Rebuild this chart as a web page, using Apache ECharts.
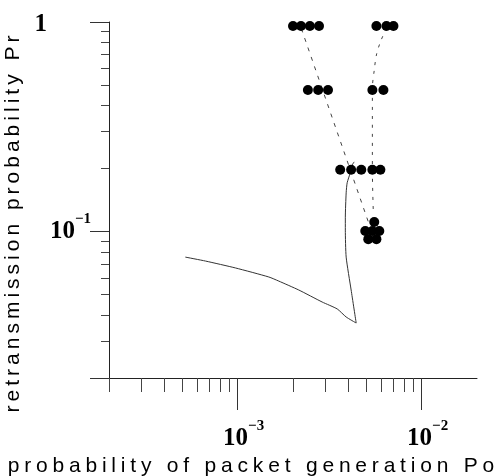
<!DOCTYPE html>
<html><head><meta charset="utf-8">
<script src="https://cdn.jsdelivr.net/npm/echarts@6/dist/echarts.min.js"></script>
<style>html,body{margin:0;padding:0;background:#fff}#c{width:500px;height:476px}</style>
</head><body><div id="c"></div>
<script>
// ---- texts ----
const xTitle = 'probability of packet generation Po';
const yTitle = 'retransmission probability Pr';

// ---- axis ticks / labels ----
const xMin = 0.0002, xMax = 0.02;
const yMin = 0.02, yMax = 1;
const xMajorTicks = [0.001, 0.01];
const xMinorTicks = [0.0002, 0.0003, 0.0004, 0.0005, 0.0006, 0.0007, 0.0008, 0.0009,
                     0.002, 0.003, 0.004, 0.005, 0.006, 0.007, 0.008, 0.009];
const yMajorTicks = [0.02, 0.1, 1];
const yMinorTicks = [0.03, 0.04, 0.05, 0.06, 0.07, 0.08, 0.09,
                     0.2, 0.3, 0.4, 0.5, 0.6, 0.7, 0.8, 0.9];
const xLabelValues = [0.001, 0.01];
const xLabelExponents = ['−3', '−2'];
const yLabelValues = [0.1, 1];

// ---- data: measured points (dots) ----
const dotPo = [0.00200, 0.00221, 0.00247, 0.00277, 0.00568, 0.00644, 0.00703,
               0.00241, 0.00274, 0.00310, 0.00540, 0.00620,
               0.00361, 0.00414, 0.00470, 0.00540, 0.00597,
               0.00553, 0.00494, 0.00540, 0.00589, 0.00513, 0.00568];
const dotPr = [0.957, 0.957, 0.957, 0.957, 0.957, 0.957, 0.957,
               0.474, 0.474, 0.474, 0.474, 0.474,
               0.197, 0.197, 0.197, 0.197, 0.197,
               0.111, 0.1005, 0.1005, 0.1005, 0.092, 0.092];

// ---- solid curve ----
const solidPo = [0.000520, 0.000669, 0.000975, 0.001477, 0.001675, 0.00215, 0.00288, 0.00348,
                 0.00389, 0.00441, 0.00414, 0.00389, 0.00385, 0.00385, 0.00389, 0.00394,
                 0.00409, 0.00420, 0.00430];
const solidPr = [0.0755, 0.0723, 0.0670, 0.0607, 0.0580, 0.0526, 0.0461, 0.0427,
                 0.0391, 0.0366, 0.0526, 0.0755, 0.1016, 0.117, 0.153, 0.171,
                 0.190, 0.208, 0.215];

// ---- dashed diagonal line ----
const dashAPo = [0.00222, 0.00525];
const dashAPr = [0.93, 0.105];

// ---- dashed right line ----
const dashBPo = [0.00644, 0.00597, 0.00568, 0.00553, 0.00540, 0.00540, 0.00540, 0.00547];
const dashBPr = [0.936, 0.803, 0.696, 0.590, 0.484, 0.340, 0.197, 0.120];

const zip = (a, b) => a.map((v, i) => [v, b[i]]);
const spaced = s => s.split('').map(ch => '{c|' + ch + '}').join('');

const serif = 'Liberation Serif';
const sans = 'Liberation Sans';
const ink = '#000';

const labelRich = {
  b: {fontFamily: serif, fontWeight: 'bold', fontSize: 25, color: ink},
  s: {fontFamily: serif, fontWeight: 'bold', fontSize: 15, color: ink, padding: [0, 0, 24, 0]},
  one: {fontFamily: serif, fontWeight: 'bold', fontSize: 25, color: ink, padding: [6, 44, 0, 0]}
};

const chart = echarts.init(document.getElementById('c'), null, {renderer: 'canvas'});
chart.setOption({
  animation: false,
  backgroundColor: '#fff',
  grid: {left: 109, right: 23, top: 22, bottom: 98, outerBoundsMode: 'none', containLabel: false},
  xAxis: [{
    type: 'log', logBase: 10, min: xMin, max: xMax,
    position: 'bottom',
    name: spaced(xTitle), nameLocation: 'middle', nameGap: 76,
    nameTextStyle: {padding: [0, 84, 0, 0], rich: {c: {fontFamily: sans, fontSize: 21, color: ink, padding: [0, 2.4]}}},
    axisLine: {show: true, onZero: false, lineStyle: {color: '#222', width: 1}},
    axisTick: {show: true, customValues: xMajorTicks, length: 32, lineStyle: {color: '#333', width: 1}},
    axisLabel: {
      show: true, customValues: xLabelValues, margin: 41, padding: [0, 0, 0, 12],
      formatter: v => {
        const i = xLabelValues.findIndex(t => Math.abs(Math.log10(t) - Math.log10(v)) < 1e-6);
        return i < 0 ? '' : '{b|10}{s|' + xLabelExponents[i] + '}';
      },
      rich: labelRich
    },
    splitLine: {show: false}, minorTick: {show: false}
  }, {
    type: 'log', logBase: 10, min: xMin, max: xMax,
    position: 'bottom',
    axisLine: {show: false, onZero: false},
    axisTick: {show: true, customValues: xMinorTicks, length: 14, lineStyle: {color: '#444', width: 1}},
    axisLabel: {show: false},
    splitLine: {show: false}
  }],
  yAxis: [{
    type: 'log', logBase: 10, min: yMin, max: yMax,
    position: 'left',
    name: spaced(yTitle), nameLocation: 'middle', nameRotate: 90, nameGap: 67,
    nameTextStyle: {padding: [0, 48, 0, 0], rich: {c: {fontFamily: sans, fontSize: 21, color: ink, padding: [0, 2.0]}}},
    axisLine: {show: true, onZero: false, lineStyle: {color: '#222', width: 1}},
    axisTick: {show: true, customValues: yMajorTicks, length: 19, lineStyle: {color: '#333', width: 1}},
    axisLabel: {
      show: true, customValues: yLabelValues, margin: 18,
      formatter: v => {
        const e = Math.round(Math.log10(v));
        if (e === 0) return '{one|1}';
        return '{b|10}{s|−' + Math.abs(e) + '}';
      },
      rich: labelRich
    },
    splitLine: {show: false}, minorTick: {show: false}
  }, {
    type: 'log', logBase: 10, min: yMin, max: yMax,
    position: 'left',
    axisLine: {show: false, onZero: false},
    axisTick: {show: true, customValues: yMinorTicks, length: 8, lineStyle: {color: '#444', width: 1}},
    axisLabel: {show: false},
    splitLine: {show: false}
  }],
  series: [{
    type: 'line', xAxisIndex: 0, yAxisIndex: 0, data: zip(solidPo, solidPr),
    showSymbol: false, symbol: 'none', smooth: 0.2,
    lineStyle: {color: '#333', width: 1}, z: 2
  }, {
    type: 'line', xAxisIndex: 0, yAxisIndex: 0, data: zip(dashAPo, dashAPr),
    showSymbol: false, symbol: 'none',
    lineStyle: {color: '#444', width: 1, type: [4, 6]}, z: 2
  }, {
    type: 'line', xAxisIndex: 0, yAxisIndex: 0, data: zip(dashBPo, dashBPr),
    showSymbol: false, symbol: 'none', smooth: 0.3,
    lineStyle: {color: '#444', width: 1, type: [3, 6]}, z: 2
  }, {
    type: 'scatter', xAxisIndex: 0, yAxisIndex: 0, data: zip(dotPo, dotPr),
    symbol: 'circle', symbolSize: 10, itemStyle: {color: '#000', opacity: 1}, z: 3
  }]
});
</script></body></html>
